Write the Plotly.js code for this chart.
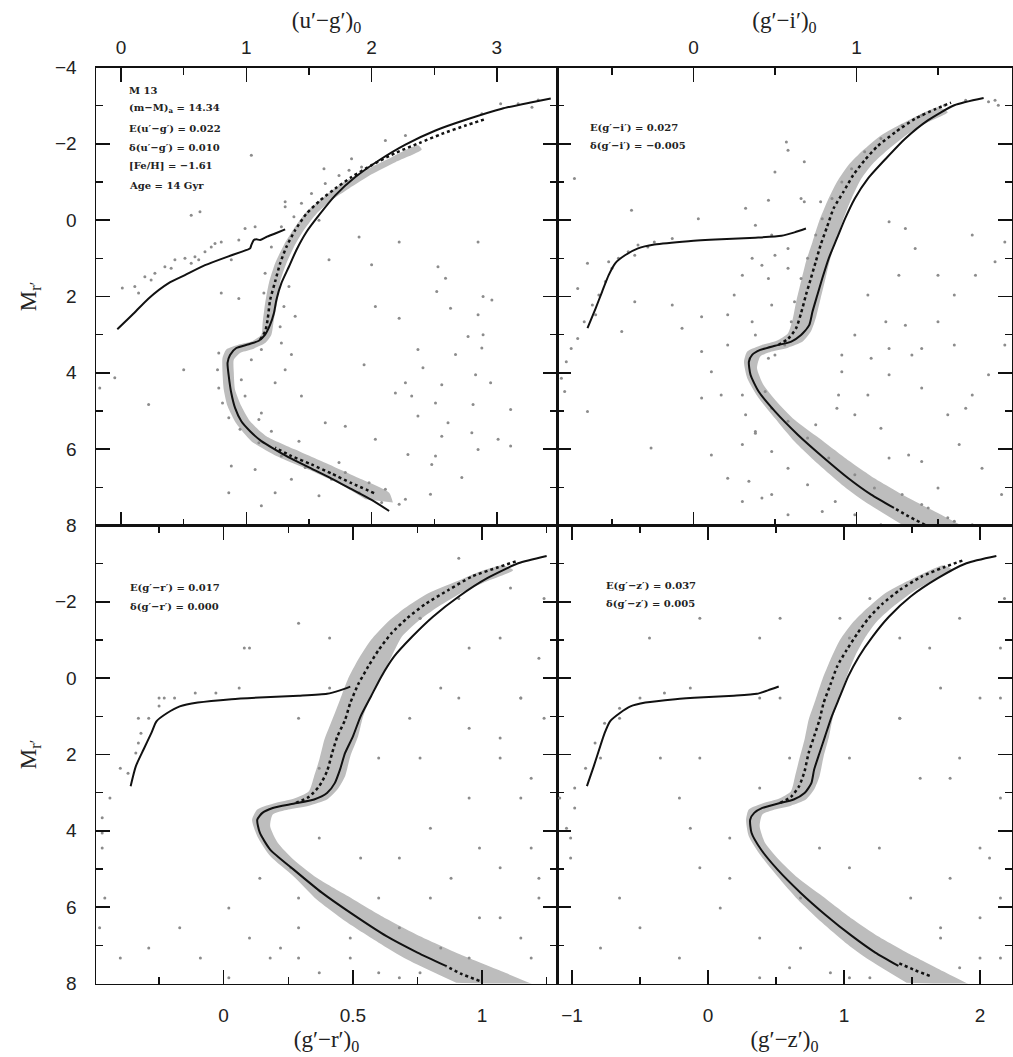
<!DOCTYPE html>
<html>
<head>
<meta charset="utf-8">
<script src="https://cdn.plot.ly/plotly-3.0.1.min.js"></script>
<style>html,body{margin:0;padding:0;background:#fff}</style>
</head>
<body>
<div id="plot" style="width:1013px;height:1057px"></div>
<script>
// ===== (u'-g')0 vs M_r' =====
const ugHbX = [-0.03,0.09,0.22,0.38,0.51,0.67,0.83,0.96,1.03,1.04,1.06,1.08,1.11,1.16,1.23,1.31];
const ugHbM = [2.86,2.48,2.05,1.65,1.44,1.18,0.98,0.83,0.74,0.65,0.52,0.50,0.52,0.44,0.35,0.24];
const ugIsoX = [2.14,2.00,1.84,1.68,1.52,1.36,1.23,1.12,1.03,0.96,0.91,0.88,0.86,0.85,0.87,0.92,1.02,1.10,1.15,1.19,1.22,1.24,1.28,1.34,1.40,1.48,1.58,1.71,1.87,2.06,2.27,2.51,2.77,3.04,3.28,3.43];
const ugIsoM = [7.62,7.33,7.05,6.77,6.51,6.25,6.01,5.79,5.53,5.27,4.92,4.53,4.09,3.74,3.53,3.35,3.25,3.16,3.00,2.74,2.44,2.09,1.65,1.22,0.78,0.31,-0.13,-0.65,-1.13,-1.57,-1.98,-2.35,-2.65,-2.92,-3.09,-3.19];
const ugFidMsX = [2.02,1.84,1.68,1.52,1.36,1.23];
const ugFidMsM = [7.15,6.89,6.64,6.40,6.18,5.96];
const ugFidRgbX = [1.11,1.15,1.17,1.19,1.23,1.27,1.32,1.39,1.48,1.59,1.71,1.84,2.00,2.19,2.38,2.56,2.75,2.91];
const ugFidRgbM = [3.13,2.92,2.61,2.09,1.61,1.13,0.70,0.26,-0.17,-0.52,-0.83,-1.13,-1.44,-1.76,-2.02,-2.26,-2.48,-2.65];
const ugBandX = [1.95,1.75,1.50,1.24,1.04,0.92,0.85,0.82,0.81,0.81,0.84,0.94,1.04,1.12,1.13,1.15,1.18,1.23,1.30,1.38,1.48,1.62,1.76,1.95,2.16,2.37,
                 2.40,2.19,2.00,1.82,1.68,1.56,1.46,1.38,1.32,1.27,1.25,1.22,1.20,1.15,1.04,0.95,0.90,0.90,0.91,0.96,1.03,1.16,1.39,1.66,1.92,2.14,2.17];
const ugBandM = [7.31,6.92,6.54,6.18,5.79,5.33,4.87,4.44,4.00,3.61,3.39,3.26,3.18,3.00,2.70,2.18,1.65,1.13,0.65,0.22,-0.22,-0.61,-0.96,-1.31,-1.65,-1.96,
                 -1.85,-1.52,-1.20,-0.83,-0.52,-0.17,0.26,0.70,1.13,1.61,2.09,2.61,3.00,3.22,3.39,3.48,3.66,4.00,4.44,4.87,5.27,5.66,6.01,6.40,6.79,7.14,7.40];
const ugStarX = [3.03,2.88,2.27,2.11,1.84,1.62,1.92,1.04,0.63,0.56,0.01,0.14,0.80,0.94,1.31,1.66,2.00,2.22,2.53,2.85,2.59,2.52,2.89,2.96,2.85,2.63,2.03,2.22,2.77,2.89,2.67,2.88,2.41,1.94,2.83,2.95,2.27,2.56,2.51,2.81,3.11,2.37,2.61,2.56,2.51,2.48,3.01,3.11,2.80,2.85,1.63,1.44,1.31,1.23,1.12,0.88,0.86,1.07,1.12,1.23,1.36,1.58,1.74,2.27,2.47,0.50,0.22,-0.05,-0.17,1.42,1.79,2.03,2.29,2.72,2.32,2.19,2.37,1.90,1.39,1.28,1.36,
                 0.11,0.19,0.27,0.35,0.43,0.51,0.59,0.67,0.75,0.80,0.72,0.56,0.40,0.24,0.62,
                 0.78,0.77,0.78,0.81,0.86,0.95,1.10,1.28,1.47,1.68,1.90,2.08,2.22,2.11,1.98,1.79,0.96,0.99,1.10,1.20,1.04,1.12,1.27,1.30,1.34,1.14,1.15,1.20,1.28,1.38,1.44,1.52,1.63,1.74,1.82,1.31,1.58,0.99,0.94,1.07,0.88,3.17,3.28,3.33];
const ugStarM = [-3.05,-2.79,-2.22,-2.09,-1.61,-1.35,-1.39,-1.70,-0.22,-0.13,1.78,1.91,1.91,2.05,-0.48,1.04,1.17,0.57,1.22,0.57,1.52,1.87,2.00,2.09,2.48,2.31,2.26,2.57,3.05,3.00,3.52,3.35,3.87,3.79,4.05,4.26,4.26,4.31,4.79,4.83,4.96,5.13,5.31,5.66,6.18,6.40,5.74,5.92,5.57,6.01,5.31,4.61,3.92,4.26,5.05,6.44,7.14,6.53,7.48,7.14,6.79,7.22,6.35,7.31,7.18,3.92,4.83,4.13,4.40,5.79,5.40,5.74,6.14,6.74,4.61,4.53,3.39,0.44,2.52,3.22,3.52,
                 1.74,1.48,1.39,1.22,1.04,1.00,0.96,0.83,0.61,0.57,0.70,1.13,1.26,1.57,1.04,
                 3.48,3.92,4.40,4.79,5.18,5.48,5.83,6.18,6.48,6.79,7.14,7.40,7.44,7.05,6.88,6.61,4.18,4.61,5.22,5.53,3.66,3.39,2.79,2.26,1.74,1.91,1.39,0.70,0.17,-0.09,-0.44,-0.70,-0.96,-1.17,-1.31,-0.35,0.00,0.22,0.52,0.17,1.04,-3.05,-2.96,-3.15];

// ===== (g'-i')0 vs M_r' =====
const giHbX = [-0.65,-0.60,-0.56,-0.52,-0.48,-0.42,-0.34,-0.24,-0.03,0.17,0.38,0.54,0.62,0.69];
const giHbM = [2.83,2.31,1.87,1.44,1.13,0.92,0.74,0.64,0.55,0.50,0.46,0.41,0.32,0.22];
const giIsoX = [1.23,1.09,0.95,0.79,0.64,0.50,0.40,0.35,0.34,0.36,0.41,0.50,0.60,0.66,0.71,0.73,0.76,0.79,0.83,0.88,0.93,0.99,1.07,1.18,1.30,1.44,1.60,1.78];
const giIsoM = [7.54,7.19,6.76,6.19,5.62,5.01,4.49,4.05,3.71,3.53,3.40,3.29,3.18,3.01,2.75,2.40,1.96,1.53,1.00,0.48,-0.04,-0.57,-1.09,-1.61,-2.14,-2.62,-3.01,-3.20];
const giFidMsX = [1.42,1.32,1.23];
const giFidMsM = [7.98,7.76,7.54];
const giFidRgbX = [0.52,0.58,0.63,0.66,0.69,0.72,0.75,0.78,0.82,0.86,0.92,0.98,1.05,1.13,1.24,1.36,1.48,1.58];
const giFidRgbM = [3.27,3.11,2.83,2.44,1.96,1.53,1.09,0.65,0.17,-0.31,-0.74,-1.18,-1.57,-1.94,-2.31,-2.66,-2.90,-3.08];
const giBandX = [1.28,1.05,0.91,0.77,0.62,0.50,0.40,0.33,0.31,0.33,0.42,0.51,0.58,0.61,0.63,0.66,0.69,0.73,0.77,0.82,0.88,0.95,1.04,1.15,1.28,1.40,1.50,
                 1.56,1.44,1.32,1.20,1.10,1.03,0.97,0.92,0.88,0.84,0.81,0.78,0.75,0.72,0.67,0.58,0.48,0.41,0.39,0.43,0.51,0.62,0.77,0.93,1.11,1.32,1.52,1.67];
const giBandM = [7.98,7.37,6.93,6.41,5.80,5.19,4.66,4.14,3.71,3.44,3.27,3.16,2.96,2.57,2.14,1.61,1.09,0.57,0.04,-0.48,-1.00,-1.44,-1.83,-2.22,-2.53,-2.79,-2.96,
                 -2.83,-2.57,-2.27,-1.87,-1.48,-1.09,-0.57,-0.04,0.48,1.00,1.53,2.05,2.57,2.92,3.18,3.34,3.44,3.57,3.88,4.32,4.75,5.23,5.71,6.23,6.76,7.28,7.72,8.06];
const giStarX = [0.57,0.58,0.50,0.68,-0.73,-0.38,0.32,0.46,0.66,0.78,0.03,0.38,0.48,0.58,0.50,0.42,0.58,0.46,0.05,0.21,-0.07,-0.44,-0.71,-0.65,0.36,0.48,0.46,0.05,0.11,0.17,0.05,-0.65,-0.26,0.11,0.30,0.38,0.34,0.42,0.58,0.79,0.99,1.07,1.20,1.34,1.50,1.60,1.73,1.85,1.91,1.20,1.36,1.26,1.07,1.18,1.40,1.56,1.71,1.81,1.91,1.63,1.77,1.89,1.50,1.32,1.15,1.40,1.71,0.99,0.91,1.81,1.87,-0.81,-0.78,-0.75,-0.71,-0.79,0.88,0.91,1.09,1.60,1.30,
                 -0.67,-0.62,-0.58,-0.54,-0.50,-0.46,-0.40,-0.34,-0.24,-0.13,-0.60,-0.52,-0.36,-0.28,
                 0.30,0.32,0.38,0.48,0.58,0.70,0.87,0.99,1.15,0.58,0.70,0.83,0.99,1.11,1.28,1.44,1.56,0.48,0.44,1.60,
                 0.56,0.60,0.62,0.66,0.70,0.75,0.79,0.85,0.91,0.97,1.05,1.15,1.28,1.40,1.54,1.67,1.85,
                 0.68,0.36,0.30,0.25,0.38,0.50,0.21,-0.13,-0.36,0.21,0.30,0.48,0.75,1.20,1.40,1.67,1.40,1.20,0.89,1.50,1.30,1.71];
const giStarM = [-2.05,-1.83,-1.26,-1.53,-1.09,-0.26,-0.31,-0.52,-0.57,-0.48,-0.04,0.13,0.39,0.74,0.92,1.18,1.26,1.53,2.53,2.48,2.83,2.92,1.79,1.13,2.66,2.22,3.62,3.44,3.97,4.58,4.66,5.01,5.97,6.15,5.88,5.58,6.84,7.28,7.72,7.63,5.10,4.58,4.05,3.53,2.66,1.96,1.44,1.09,0.57,0.04,0.74,1.44,1.96,2.66,4.40,5.10,4.58,4.05,3.27,5.88,6.50,7.19,7.02,6.15,5.45,7.45,7.98,3.01,3.53,-3.10,-3.01,4.14,3.71,3.36,3.10,4.49,4.93,3.97,3.62,3.27,2.75,
                 2.66,2.22,1.96,1.61,1.26,1.00,0.83,0.65,0.57,0.48,2.48,1.09,0.92,0.70,
                 4.58,5.10,5.54,6.06,6.50,6.93,7.37,7.72,7.98,5.27,5.71,6.23,6.67,7.02,7.19,7.54,7.80,4.93,4.49,7.89,
                 3.27,2.66,2.14,1.53,1.00,0.39,-0.04,-0.57,-1.00,-1.35,-1.79,-2.14,-2.48,-2.75,-3.01,-3.14,-3.14,
                 -0.48,1.00,1.44,1.96,3.01,3.53,3.27,2.22,2.14,6.76,7.37,7.19,5.36,6.23,6.32,4.93,3.36,3.36,4.58,1.44,0.22,0.39];

// ===== (g'-r')0 vs M_r' =====
const grHbX = [-0.36,-0.34,-0.31,-0.28,-0.26,-0.22,-0.17,-0.10,0.03,0.16,0.29,0.40,0.45,0.49];
const grHbM = [2.83,2.31,1.87,1.44,1.13,0.92,0.74,0.64,0.55,0.50,0.46,0.41,0.32,0.22];
const grIsoX = [0.86,0.75,0.63,0.50,0.38,0.27,0.18,0.14,0.13,0.15,0.19,0.27,0.35,0.40,0.43,0.45,0.47,0.50,0.53,0.57,0.61,0.66,0.73,0.81,0.91,1.02,1.14,1.25];
const grIsoM = [7.54,7.19,6.76,6.19,5.62,5.01,4.49,4.05,3.71,3.53,3.40,3.29,3.18,3.01,2.75,2.40,1.96,1.53,1.00,0.48,-0.04,-0.57,-1.09,-1.61,-2.14,-2.62,-3.01,-3.20];
const grFidMsX = [0.99,0.92,0.86];
const grFidMsM = [7.93,7.75,7.54];
const grFidRgbX = [0.28,0.33,0.37,0.40,0.42,0.44,0.47,0.49,0.52,0.56,0.60,0.65,0.71,0.78,0.87,0.96,1.06,1.14];
const grFidRgbM = [3.27,3.11,2.83,2.44,1.96,1.53,1.09,0.65,0.17,-0.31,-0.74,-1.18,-1.57,-1.94,-2.31,-2.66,-2.90,-3.08];
const grBandX = [0.90,0.71,0.60,0.48,0.36,0.27,0.18,0.13,0.11,0.13,0.20,0.27,0.33,0.35,0.37,0.39,0.42,0.45,0.48,0.52,0.57,0.63,0.70,0.79,0.90,0.99,1.08,
                 1.12,1.03,0.93,0.83,0.75,0.69,0.65,0.61,0.57,0.54,0.52,0.49,0.47,0.44,0.40,0.33,0.25,0.19,0.18,0.21,0.27,0.36,0.48,0.61,0.76,0.93,1.09,1.21];
const grBandM = [7.98,7.37,6.93,6.41,5.80,5.19,4.66,4.14,3.71,3.44,3.27,3.16,2.96,2.57,2.14,1.61,1.09,0.57,0.04,-0.48,-1.00,-1.44,-1.83,-2.22,-2.53,-2.79,-2.96,
                 -2.83,-2.57,-2.27,-1.87,-1.48,-1.09,-0.57,-0.04,0.48,1.00,1.53,2.05,2.57,2.92,3.18,3.34,3.44,3.57,3.88,4.32,4.75,5.23,5.71,6.23,6.76,7.28,7.72,8.06];
const grStarX = [-0.47,-0.47,-0.47,-0.44,-0.40,-0.33,-0.25,0.76,0.91,1.07,1.15,0.99,1.22,1.07,0.80,1.19,0.29,0.22,0.49,0.68,0.02,0.14,0.37,0.29,0.10,0.41,0.76,0.95,1.15,1.24,0.91,
                 0.08,0.29,0.41,0.60,0.72,0.84,0.95,1.07,1.19,1.15,1.24,0.95,0.80,0.68,0.88,1.07,1.19,1.22,0.99,1.15,0.84,0.68,0.49,0.29,0.18,0.10,0.02,0.26,0.37,0.53,0.60,1.07,1.22,0.76,0.91,1.11,0.29,0.37,0.60,0.76,0.95,-0.09,-0.17,-0.29,-0.40,-0.48,-0.46,
                 -0.37,-0.34,-0.32,-0.29,-0.25,-0.19,-0.11,-0.03,0.06,-0.33,-0.23];
const grStarM = [3.66,4.06,4.45,3.14,2.36,1.05,0.52,2.09,0.52,1.57,3.14,4.45,5.24,6.28,5.76,7.33,5.76,7.07,7.33,7.85,7.85,5.24,2.36,1.05,-0.79,-1.05,-1.57,-0.79,0.52,-2.09,-3.14,
                 -0.79,-1.44,0.26,2.09,1.05,0.26,1.31,2.09,2.62,0.52,1.05,3.14,3.93,4.71,5.24,4.97,4.45,5.76,6.28,6.81,7.07,6.54,6.81,6.54,7.33,6.81,6.02,4.97,4.19,4.71,5.76,-1.05,-0.52,-1.57,-2.09,-2.36,7.33,7.72,7.72,7.72,7.33,7.33,6.54,7.07,7.33,6.54,5.76,
                 2.49,1.96,1.44,1.05,0.73,0.52,0.39,0.39,0.26,1.70,0.52];

// ===== (g'-z')0 vs M_r' =====
const gzHbX = [-0.89,-0.84,-0.80,-0.76,-0.72,-0.65,-0.57,-0.46,-0.24,-0.03,0.19,0.36,0.44,0.52];
const gzHbM = [2.83,2.31,1.87,1.44,1.13,0.92,0.74,0.64,0.55,0.50,0.46,0.41,0.32,0.22];
const gzIsoX = [1.40,1.23,1.06,0.86,0.68,0.51,0.39,0.32,0.31,0.34,0.40,0.51,0.63,0.71,0.76,0.78,0.82,0.86,0.91,0.97,1.03,1.11,1.21,1.33,1.49,1.69,1.90,2.12];
const gzIsoM = [7.54,7.19,6.76,6.19,5.62,5.01,4.49,4.05,3.71,3.53,3.40,3.29,3.18,3.01,2.75,2.40,1.96,1.53,1.00,0.48,-0.04,-0.57,-1.09,-1.61,-2.14,-2.62,-3.01,-3.20];
const gzFidMsX = [1.63,1.52,1.40];
const gzFidMsM = [7.80,7.65,7.46];
const gzFidRgbX = [0.53,0.61,0.67,0.71,0.74,0.78,0.82,0.85,0.90,0.95,1.02,1.10,1.18,1.28,1.41,1.57,1.73,1.87];
const gzFidRgbM = [3.27,3.11,2.83,2.44,1.96,1.53,1.09,0.65,0.17,-0.31,-0.74,-1.18,-1.57,-1.94,-2.31,-2.66,-2.90,-3.08];
const gzBandX = [1.46,1.18,1.01,0.84,0.66,0.51,0.39,0.30,0.28,0.30,0.41,0.52,0.61,0.64,0.67,0.71,0.74,0.79,0.84,0.90,0.97,1.06,1.17,1.30,1.46,1.61,1.73,
                 1.80,1.66,1.51,1.36,1.24,1.16,1.08,1.02,0.97,0.92,0.89,0.85,0.82,0.78,0.72,0.61,0.49,0.40,0.38,0.42,0.52,0.66,0.84,1.03,1.25,1.51,1.75,1.94];
const gzBandM = [7.98,7.37,6.93,6.41,5.80,5.19,4.66,4.14,3.71,3.44,3.27,3.16,2.96,2.57,2.14,1.61,1.09,0.57,0.04,-0.48,-1.00,-1.44,-1.83,-2.22,-2.53,-2.79,-2.96,
                 -2.83,-2.57,-2.27,-1.87,-1.48,-1.09,-0.57,-0.04,0.48,1.00,1.53,2.05,2.57,2.92,3.18,3.34,3.44,3.57,3.88,4.32,4.75,5.23,5.71,6.23,6.76,7.28,7.72,8.06];
const gzStarX = [-0.98,-1.01,-0.79,-0.65,-0.06,0.38,1.04,1.41,1.78,2.00,2.15,1.71,0.68,0.38,1.04,2.00,2.15,1.63,1.04,0.53,2.18,0.16,-0.13,
                 -1.09,-1.04,-1.01,-0.98,-0.90,-0.83,-0.76,-0.65,-0.50,-0.32,-0.13,
                 -0.43,-0.06,0.38,0.53,0.60,0.38,0.16,-0.06,0.09,0.38,0.60,0.90,1.19,1.49,1.78,2.07,2.15,1.85,1.56,1.41,1.71,2.00,2.15,1.85,1.41,1.19,0.97,2.00,2.15,1.85,1.71,1.26,1.04,0.82,0.68,-0.21,-0.50,-0.79,-0.65,-0.21,-0.35];
const gzStarM = [3.40,4.19,2.09,1.05,2.09,0.52,2.09,1.05,2.62,4.45,5.76,6.54,7.07,7.85,7.85,7.33,0.52,-0.79,-1.05,-1.57,-2.09,5.24,3.93,
                 3.14,3.93,4.71,2.88,2.36,1.70,1.18,0.79,0.52,0.39,0.26,
                 -1.05,-1.57,-1.05,0.52,2.09,2.88,4.19,4.97,6.02,6.81,7.59,7.72,7.85,5.76,5.24,4.71,3.14,2.09,2.62,1.05,0.26,0.52,-0.79,-1.57,-1.05,-2.09,-1.57,6.28,7.33,7.59,6.81,4.45,4.97,4.45,5.76,7.33,6.54,7.07,5.76,3.14,2.09];

// ---- styling ----
const INK = '#111';
const BAND = '#bdbdbd';
const DOT = '#8c8c8c';
const TICKFONT = {family: 'Liberation Sans, Arial, sans-serif', size: 19, color: '#222'};
const TITLEFONT = {family: 'Liberation Serif, Times New Roman, serif', size: 23, color: '#222'};
const NOTEFONT = {family: 'DejaVu Serif, serif', size: 10, color: '#222', weight: 'bold'};

function panelTraces(xa, ya, bandX, bandM, starX, starM, hbX, hbM, isoX, isoM, fmsX, fmsM, frgX, frgM) {
  const smooth = {shape: 'spline', smoothing: 0.6};
  return [
    {x: bandX, y: bandM, xaxis: xa, yaxis: ya, type: 'scatter', mode: 'lines', fill: 'toself',
     fillcolor: BAND, line: Object.assign({width: 0, color: BAND}, smooth), hoverinfo: 'skip'},
    {x: starX, y: starM, xaxis: xa, yaxis: ya, type: 'scatter', mode: 'markers',
     marker: {size: 3, color: DOT, line: {width: 0}}},
    {x: hbX, y: hbM, xaxis: xa, yaxis: ya, type: 'scatter', mode: 'lines',
     line: Object.assign({color: INK, width: 2}, smooth)},
    {x: isoX, y: isoM, xaxis: xa, yaxis: ya, type: 'scatter', mode: 'lines',
     line: Object.assign({color: INK, width: 2}, smooth)},
    {x: fmsX, y: fmsM, xaxis: xa, yaxis: ya, type: 'scatter', mode: 'lines',
     line: Object.assign({color: INK, width: 2.5, dash: 'dot'}, smooth)},
    {x: frgX, y: frgM, xaxis: xa, yaxis: ya, type: 'scatter', mode: 'lines',
     line: Object.assign({color: INK, width: 2.5, dash: 'dot'}, smooth)}
  ];
}

const traces = [].concat(
  panelTraces('x', 'y', ugBandX, ugBandM, ugStarX, ugStarM, ugHbX, ugHbM, ugIsoX, ugIsoM, ugFidMsX, ugFidMsM, ugFidRgbX, ugFidRgbM),
  panelTraces('x2', 'y2', giBandX, giBandM, giStarX, giStarM, giHbX, giHbM, giIsoX, giIsoM, giFidMsX, giFidMsM, giFidRgbX, giFidRgbM),
  panelTraces('x3', 'y3', grBandX, grBandM, grStarX, grStarM, grHbX, grHbM, grIsoX, grIsoM, grFidMsX, grFidMsM, grFidRgbX, grFidRgbM),
  panelTraces('x4', 'y4', gzBandX, gzBandM, gzStarX, gzStarM, gzHbX, gzHbM, gzIsoX, gzIsoM, gzFidMsX, gzFidMsM, gzFidRgbX, gzFidRgbM)
);

const W = 1013, H = 1057;
const xL = [96 / W, 557 / W], xR = [557 / W, 1012 / W];
const yT = [1 - 525.5 / H, 1 - 67.5 / H], yB = [1 - 983.5 / H, 1 - 525.5 / H];

function xAxis(domain, anchor, range, dtick, minorDtick, side, title) {
  return {
    domain: domain, anchor: anchor, range: range, side: side,
    showline: true, linecolor: INK, linewidth: 1.5, mirror: 'ticks',
    ticks: 'inside', ticklen: 14, tickwidth: 1.4, tickcolor: INK,
    dtick: dtick, tick0: 0, showgrid: false, zeroline: false,
    minor: {ticks: 'inside', ticklen: 7, tickwidth: 1.4, tickcolor: INK, dtick: minorDtick, tick0: 0, showgrid: false},
    tickfont: TICKFONT, ticklabelstandoff: side === 'top' ? 4 : 14,
    title: {text: title, font: TITLEFONT, standoff: side === 'top' ? 2 : 6}
  };
}

function yAxis(domain, anchor, vals, labels, title) {
  const ax = {
    domain: domain, anchor: anchor, range: [8, -4],
    showline: true, linecolor: INK, linewidth: 1.5, mirror: 'ticks',
    ticks: 'inside', ticklen: 14, tickwidth: 1.4, tickcolor: INK,
    tickmode: 'array', tickvals: vals,
    showgrid: false, zeroline: false,
    minor: {ticks: 'inside', ticklen: 7, tickwidth: 1.4, tickcolor: INK, dtick: 1, tick0: 0, showgrid: false},
    showticklabels: !!labels, tickfont: TICKFONT, ticklabelstandoff: 14
  };
  if (labels) ax.ticktext = labels;
  if (title) ax.title = {text: title, font: TITLEFONT, standoff: 12};
  return ax;
}

const yTopVals = [-4, -2, 0, 2, 4, 6, 8];
const yTopText = ['−4', '−2', '0', '2', '4', '6', '8'];
const yBotVals = [-2, 0, 2, 4, 6, 8];
const yBotText = ['−2', '0', '2', '4', '6', '8'];
const MR = 'M<sub>r′</sub>';

const layout = {
  width: W, height: H, margin: {l: 0, r: 0, t: 0, b: 0},
  paper_bgcolor: '#fff', plot_bgcolor: 'rgba(0,0,0,0)', showlegend: false,
  xaxis:  xAxis(xL, 'y',  [-0.2, 3.48], 1, 0.5, 'top', '(u′−g′)<sub>0</sub>'),
  xaxis2: xAxis(xR, 'y2', [-0.837, 1.954], 1, 0.5, 'top', '(g′−i′)<sub>0</sub>'),
  xaxis3: xAxis(xL, 'y3', [-0.494, 1.29], 0.5, 0.25, 'bottom', '(g′−r′)<sub>0</sub>'),
  xaxis4: xAxis(xR, 'y4', [-1.11, 2.235], 1, 0.5, 'bottom', '(g′−z′)<sub>0</sub>'),
  yaxis:  yAxis(yT, 'x',  yTopVals, yTopText, MR),
  yaxis2: yAxis(yT, 'x2', yTopVals, null, null),
  yaxis3: yAxis(yB, 'x3', yBotVals, yBotText, MR),
  yaxis4: yAxis(yB, 'x4', yBotVals, null, null),
  annotations: []
};

// parameter notes inside the panels
const notes = [
  {x: 127, y: 90,  t: 'M 13'},
  {x: 127, y: 109, t: '(m−M)<sub>a</sub> = 14.34'},
  {x: 127, y: 128, t: 'E(u′−g′) = 0.022'},
  {x: 127, y: 147, t: 'δ(u′−g′) = 0.010'},
  {x: 127, y: 166, t: '[Fe/H] = −1.61'},
  {x: 127, y: 185, t: 'Age = 14 Gyr'},
  {x: 588, y: 127, t: 'E(g′−i′) = 0.027'},
  {x: 588, y: 146, t: 'δ(g′−i′) = −0.005'},
  {x: 128, y: 587, t: 'E(g′−r′) = 0.017'},
  {x: 128, y: 606, t: 'δ(g′−r′) = 0.000'},
  {x: 604, y: 585, t: 'E(g′−z′) = 0.037'},
  {x: 604, y: 603, t: 'δ(g′−z′) = 0.005'}
];
notes.forEach(n => layout.annotations.push({
  xref: 'paper', yref: 'paper', x: n.x / W, y: 1 - n.y / H, xanchor: 'left', yanchor: 'middle',
  text: n.t, showarrow: false, font: NOTEFONT
}));

Plotly.newPlot('plot', traces, layout, {staticPlot: true, displayModeBar: false});
</script>
</body>
</html>
